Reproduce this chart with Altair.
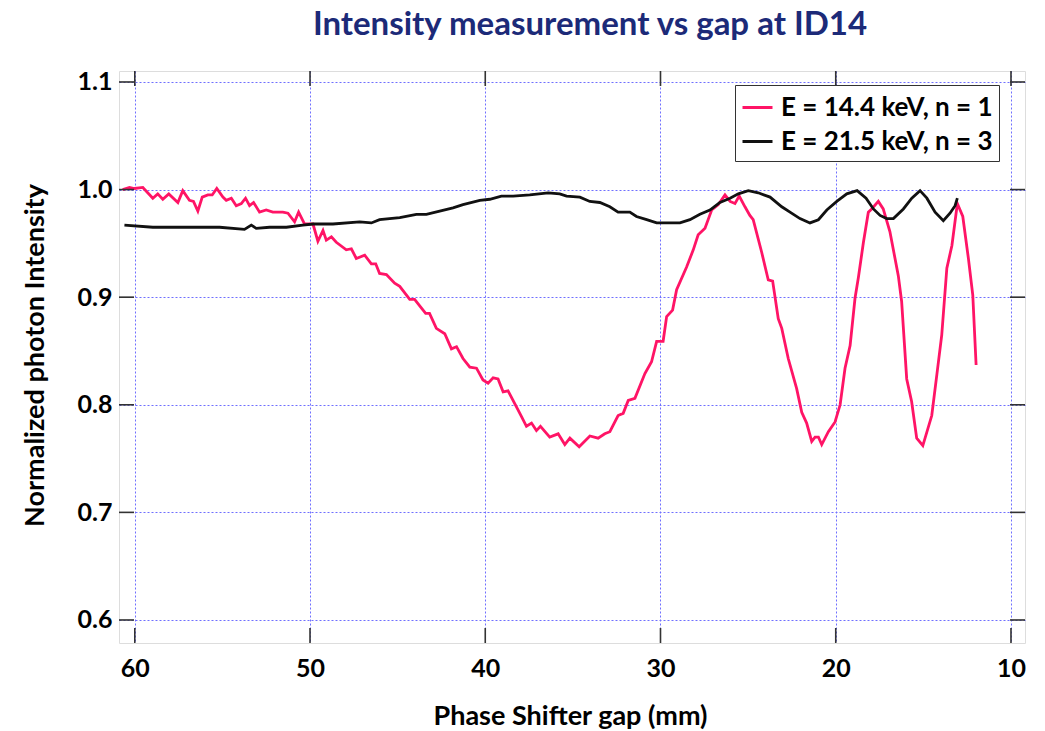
import altair as alt
import pandas as pd

FONT = "Lato"

pink_gap = [60.69, 60.30, 60.02, 59.54, 58.97, 58.69, 58.40, 58.06, 57.54, 57.26, 56.88, 56.65, 56.40, 56.15,
            55.83, 55.58, 55.32, 54.97, 54.78, 54.49, 54.21, 53.92, 53.68, 53.45, 53.22, 52.88, 52.50, 52.12,
            51.55, 51.26, 50.88, 50.65, 50.31, 49.83, 49.55, 49.26, 49.07, 48.78, 48.50, 47.93, 47.64, 47.36,
            46.88, 46.50, 46.25, 46.03, 45.64, 45.17, 44.88, 44.31, 44.03, 43.74, 43.40, 43.18, 42.79, 42.31,
            41.93, 41.64, 41.27, 40.88, 40.50, 40.13, 39.84, 39.55, 39.27, 38.98, 38.70, 38.22, 37.93, 37.65,
            37.36, 37.08, 36.85, 36.32, 35.84, 35.46, 35.17, 34.64, 34.03, 33.56, 33.18, 32.89, 32.42, 32.13,
            31.84, 31.46, 30.89, 30.51, 30.22, 29.85, 29.65, 29.31, 29.08, 28.51, 28.13, 27.85, 27.46, 27.08,
            26.70, 26.32, 26.03, 25.75, 25.51, 25.18, 24.90, 24.71, 24.23, 23.85, 23.60, 23.28, 23.08, 22.71,
            22.23, 21.94, 21.66, 21.37, 21.18, 20.99, 20.80, 20.42, 20.04, 19.75, 19.47, 19.18, 18.90, 18.71,
            18.42, 18.14, 17.95, 17.57, 17.29, 16.91, 16.43, 16.24, 15.95, 15.67, 15.38, 15.03, 14.52, 14.23,
            13.95, 13.66, 13.37, 13.06, 12.75, 12.43, 12.18, 11.99]
pink_val = [1.000, 1.002, 1.001, 1.002, 0.992, 0.996, 0.991, 0.996, 0.988, 0.999, 0.990, 0.989, 0.980, 0.993,
            0.995, 0.995, 1.001, 0.993, 0.990, 0.992, 0.985, 0.987, 0.992, 0.985, 0.988, 0.979, 0.981, 0.979,
            0.979, 0.978, 0.970, 0.979, 0.968, 0.968, 0.952, 0.962, 0.953, 0.956, 0.951, 0.944, 0.945, 0.936,
            0.939, 0.931, 0.931, 0.922, 0.921, 0.913, 0.910, 0.898, 0.898, 0.892, 0.885, 0.885, 0.871, 0.866,
            0.852, 0.854, 0.843, 0.835, 0.834, 0.823, 0.820, 0.825, 0.824, 0.812, 0.813, 0.798, 0.789, 0.780,
            0.783, 0.776, 0.780, 0.770, 0.773, 0.763, 0.769, 0.761, 0.771, 0.769, 0.773, 0.775, 0.790, 0.792,
            0.804, 0.806, 0.829, 0.840, 0.859, 0.859, 0.882, 0.888, 0.907, 0.928, 0.944, 0.958, 0.964, 0.981,
            0.986, 0.995, 0.989, 0.987, 0.994, 0.984, 0.976, 0.972, 0.942, 0.916, 0.915, 0.880, 0.871, 0.843,
            0.815, 0.793, 0.783, 0.766, 0.770, 0.770, 0.763, 0.775, 0.784, 0.800, 0.834, 0.855, 0.899, 0.918,
            0.951, 0.979, 0.982, 0.989, 0.982, 0.961, 0.920, 0.896, 0.824, 0.803, 0.769, 0.762, 0.790, 0.828,
            0.865, 0.927, 0.948, 0.987, 0.975, 0.936, 0.902, 0.837]

black_gap = [60.59, 58.97, 57.06, 55.16, 53.74, 53.35, 53.07, 52.31, 51.35, 50.41, 49.83, 48.69, 47.17, 46.50,
             46.03, 44.88, 43.93, 43.36, 42.60, 41.84, 41.27, 40.31, 39.74, 39.08, 38.41, 37.46, 36.41, 35.75,
             35.36, 34.60, 34.03, 33.46, 32.89, 32.42, 31.75, 31.37, 30.79, 30.22, 29.46, 28.89, 28.32, 27.75,
             27.18, 26.61, 26.03, 25.56, 24.99, 24.42, 23.75, 23.08, 22.61, 22.04, 21.47, 20.99, 20.51, 19.94,
             19.37, 18.78, 18.27, 17.85, 17.47, 17.09, 16.71, 16.14, 15.66, 15.19, 14.80, 14.33, 13.86, 13.48,
             13.19, 13.06]
black_val = [0.967, 0.965, 0.965, 0.965, 0.963, 0.967, 0.964, 0.965, 0.965, 0.967, 0.968, 0.968, 0.970, 0.969,
             0.972, 0.974, 0.977, 0.977, 0.980, 0.983, 0.986, 0.990, 0.991, 0.994, 0.994, 0.995, 0.997, 0.996,
             0.994, 0.993, 0.989, 0.988, 0.984, 0.979, 0.979, 0.975, 0.972, 0.969, 0.969, 0.969, 0.972, 0.977,
             0.981, 0.988, 0.992, 0.996, 0.999, 0.997, 0.993, 0.984, 0.979, 0.973, 0.969, 0.972, 0.981, 0.989,
             0.996, 0.999, 0.992, 0.982, 0.976, 0.973, 0.973, 0.982, 0.992, 0.999, 0.992, 0.979, 0.971, 0.978,
             0.985, 0.992]

series_names = ["E = 14.4 keV, n = 1", "E = 21.5 keV, n = 3"]
series_colors = ["#FF1466", "#111111"]
x_ticks = [10, 20, 30, 40, 50, 60]
y_ticks = [0.6, 0.7, 0.8, 0.9, 1.0, 1.1]

rows = []
for i, (g, v) in enumerate(zip(pink_gap, pink_val)):
    rows.append({"gap": g, "val": v, "series": series_names[0], "idx": i})
for i, (g, v) in enumerate(zip(black_gap, black_val)):
    rows.append({"gap": g, "val": v, "series": series_names[1], "idx": i})
df = pd.DataFrame(rows)

W, H = 906, 572
TL = 15

xscale = alt.Scale(domain=[9.2, 60.9], reverse=True, nice=False, zero=False)
yscale = alt.Scale(domain=[0.5786, 1.1102], nice=False, zero=False)

lines = alt.Chart(df).mark_line(strokeWidth=2.8, clip=True).encode(
    x=alt.X("gap:Q", scale=xscale,
            axis=alt.Axis(values=x_ticks, title="Phase Shifter gap (mm)", grid=True,
                          gridColor="#6f6fff", gridDash=[2, 2], gridWidth=1,
                          ticks=False, tickSize=0, domain=False, labelPadding=13,
                          labelFontSize=25, labelFont=FONT, labelFontWeight="bold", labelColor="#000",
                          titleFontSize=27, titleFont=FONT, titleFontWeight="bold", titleColor="#000",
                          titleX=451, titleY=73, titleBaseline="middle", titleAlign="center")),
    y=alt.Y("val:Q", scale=yscale,
            axis=alt.Axis(values=y_ticks, format=".1f", title="Normalized photon Intensity", grid=True,
                          gridColor="#6f6fff", gridDash=[2, 2], gridWidth=1,
                          ticks=False, tickSize=0, domain=False, labelPadding=7,
                          labelFontSize=25, labelFont=FONT, labelFontWeight="bold", labelColor="#000",
                          titleFontSize=27, titleFont=FONT, titleFontWeight="bold", titleColor="#000",
                          titleX=-84, titleY=284, titleBaseline="middle", titleAlign="center", titleAngle=-90)),
    color=alt.Color("series:N", scale=alt.Scale(domain=series_names, range=series_colors),
                    legend=alt.Legend(title=None, orient="none", legendX=616, legendY=14,
                                      strokeColor="#333", fillColor="white", padding=6,
                                      symbolType="stroke", symbolSize=900, symbolStrokeWidth=3,
                                      labelFontSize=26, labelFont=FONT, labelFontWeight="bold",
                                      labelColor="#000", rowPadding=4, labelOffset=7, labelLimit=0)),
    order="idx:Q",
)

xt = pd.DataFrame({"t": x_ticks})
yt = pd.DataFrame({"t": y_ticks})
tick_style = dict(color="#333", strokeWidth=1.6)
xb = alt.Chart(xt).mark_rule(**tick_style).encode(x=alt.X("t:Q", scale=xscale), y=alt.value(H), y2=alt.value(H - TL))
xtp = alt.Chart(xt).mark_rule(**tick_style).encode(x=alt.X("t:Q", scale=xscale), y=alt.value(0), y2=alt.value(TL))
yl = alt.Chart(yt).mark_rule(**tick_style).encode(y=alt.Y("t:Q", scale=yscale), x=alt.value(0), x2=alt.value(TL))
yr = alt.Chart(yt).mark_rule(**tick_style).encode(y=alt.Y("t:Q", scale=yscale), x=alt.value(W), x2=alt.value(W - TL))

chart = alt.layer(lines, xb, xtp, yl, yr).properties(
    width=W, height=H,
    autosize=alt.AutoSizeParams(type="none"),
    padding={"left": 119, "top": 71, "right": 20, "bottom": 88},
    title=alt.TitleParams("Intensity measurement vs gap at ID14", fontSize=33, font=FONT, fontWeight="bold",
                          color="#1C2A78", anchor="middle", dx=18, offset=28, frame="group"),
).configure_view(stroke="#444", strokeWidth=2).configure(background="white")

chart.save("out.html", embed_options={"renderer": "svg", "actions": False})
